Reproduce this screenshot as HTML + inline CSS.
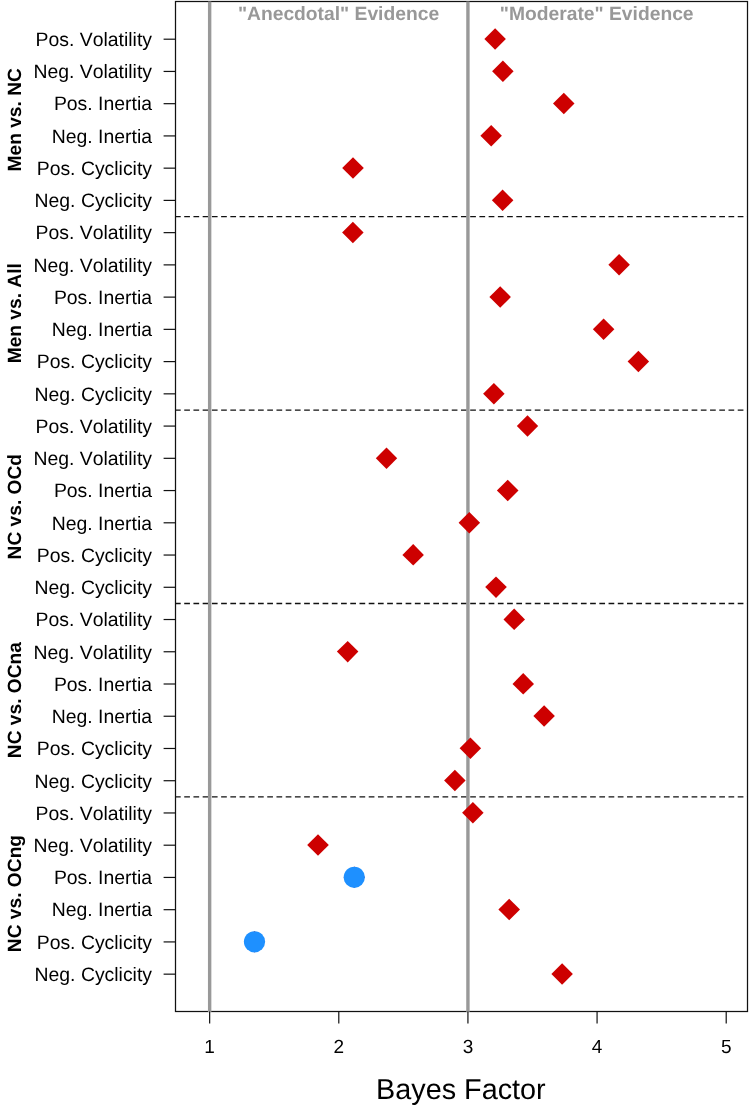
<!DOCTYPE html><html><head><meta charset="utf-8"><title>Bayes Factor</title><style>html,body{margin:0;padding:0;background:#fff}svg{display:block}text{font-kerning:none;text-rendering:geometricPrecision;font-family:"Liberation Sans",sans-serif;fill:#000}</style></head><body>
<svg width="749" height="1109" viewBox="0 0 749 1109">
<rect width="749" height="1109" fill="#fff"/>
<line x1="175.5" y1="216.62" x2="747.5" y2="216.62" stroke="#111" stroke-width="1.3" stroke-dasharray="5.7 3.525" stroke-dashoffset="0.5"/>
<line x1="175.5" y1="410.06" x2="747.5" y2="410.06" stroke="#111" stroke-width="1.3" stroke-dasharray="5.7 3.525" stroke-dashoffset="0.5"/>
<line x1="175.5" y1="603.50" x2="747.5" y2="603.50" stroke="#111" stroke-width="1.3" stroke-dasharray="5.7 3.525" stroke-dashoffset="0.5"/>
<line x1="175.5" y1="796.94" x2="747.5" y2="796.94" stroke="#111" stroke-width="1.3" stroke-dasharray="5.7 3.525" stroke-dashoffset="0.5"/>
<rect x="175.5" y="1.5" width="572.0" height="1010.0" fill="none" stroke="#111" stroke-width="1.25"/>
<line x1="209.65" y1="1.5" x2="209.65" y2="1011.9" stroke="#999999" stroke-width="3.4"/>
<line x1="467.93" y1="1.5" x2="467.93" y2="1011.9" stroke="#999999" stroke-width="3.4"/>
<text x="338.5" y="20.4" font-size="19.25" font-weight="bold" text-anchor="middle" style="fill:#989898">"Anecdotal" Evidence</text>
<text x="596.7" y="20.4" font-size="19.25" font-weight="bold" text-anchor="middle" style="fill:#989898">"Moderate" Evidence</text>
<path d="M495.1 28.3L505.9 39.1L495.1 49.8L484.4 39.1Z" fill="#cd0000"/>
<path d="M502.9 60.5L513.6 71.3L502.9 82.0L492.1 71.3Z" fill="#cd0000"/>
<path d="M563.8 92.8L574.5 103.5L563.8 114.3L553.0 103.5Z" fill="#cd0000"/>
<path d="M491.2 125.0L501.9 135.8L491.2 146.5L480.4 135.8Z" fill="#cd0000"/>
<path d="M353.0 157.3L363.8 168.0L353.0 178.8L342.2 168.0Z" fill="#cd0000"/>
<path d="M502.6 189.5L513.4 200.3L502.6 211.0L491.9 200.3Z" fill="#cd0000"/>
<path d="M352.9 221.7L363.6 232.5L352.9 243.2L342.1 232.5Z" fill="#cd0000"/>
<path d="M619.1 254.0L629.9 264.7L619.1 275.5L608.4 264.7Z" fill="#cd0000"/>
<path d="M500.2 286.2L510.9 297.0L500.2 307.7L489.4 297.0Z" fill="#cd0000"/>
<path d="M603.6 318.5L614.4 329.2L603.6 340.0L592.9 329.2Z" fill="#cd0000"/>
<path d="M638.4 350.7L649.1 361.5L638.4 372.2L627.6 361.5Z" fill="#cd0000"/>
<path d="M493.9 382.9L504.6 393.7L493.9 404.4L483.1 393.7Z" fill="#cd0000"/>
<path d="M527.5 415.2L538.2 425.9L527.5 436.7L516.8 425.9Z" fill="#cd0000"/>
<path d="M386.5 447.4L397.2 458.2L386.5 468.9L375.8 458.2Z" fill="#cd0000"/>
<path d="M507.7 479.7L518.5 490.4L507.7 501.2L496.9 490.4Z" fill="#cd0000"/>
<path d="M469.3 511.9L480.1 522.7L469.3 533.4L458.6 522.7Z" fill="#cd0000"/>
<path d="M413.2 544.1L423.9 554.9L413.2 565.6L402.4 554.9Z" fill="#cd0000"/>
<path d="M496.0 576.4L506.8 587.1L496.0 597.9L485.2 587.1Z" fill="#cd0000"/>
<path d="M514.2 608.6L525.0 619.4L514.2 630.1L503.5 619.4Z" fill="#cd0000"/>
<path d="M347.7 640.9L358.4 651.6L347.7 662.4L336.9 651.6Z" fill="#cd0000"/>
<path d="M523.2 673.1L534.0 683.9L523.2 694.6L512.5 683.9Z" fill="#cd0000"/>
<path d="M544.1 705.3L554.9 716.1L544.1 726.8L533.4 716.1Z" fill="#cd0000"/>
<path d="M470.4 737.6L481.1 748.3L470.4 759.1L459.6 748.3Z" fill="#cd0000"/>
<path d="M454.9 769.8L465.6 780.6L454.9 791.3L444.1 780.6Z" fill="#cd0000"/>
<path d="M472.9 802.1L483.6 812.8L472.9 823.6L462.1 812.8Z" fill="#cd0000"/>
<path d="M318.0 834.3L328.8 845.1L318.0 855.8L307.2 845.1Z" fill="#cd0000"/>
<path d="M354.3 866.5L365.1 877.3L354.3 888.0L343.6 877.3Z" fill="#cd0000"/>
<circle cx="354.3" cy="877.3" r="10.6" fill="#1e90ff"/>
<path d="M509.2 898.8L520.0 909.5L509.2 920.3L498.4 909.5Z" fill="#cd0000"/>
<path d="M254.5 931.0L265.2 941.8L254.5 952.5L243.8 941.8Z" fill="#cd0000"/>
<circle cx="254.5" cy="941.8" r="10.6" fill="#1e90ff"/>
<path d="M562.1 963.3L572.9 974.0L562.1 984.8L551.4 974.0Z" fill="#cd0000"/>
<line x1="163.6" y1="39.20" x2="175.5" y2="39.20" stroke="#111" stroke-width="1.2"/>
<text x="152" y="46.00" font-size="19.4" text-anchor="end">Pos. Volatility</text>
<line x1="163.6" y1="71.44" x2="175.5" y2="71.44" stroke="#111" stroke-width="1.2"/>
<text x="152" y="78.24" font-size="19.4" text-anchor="end">Neg. Volatility</text>
<line x1="163.6" y1="103.68" x2="175.5" y2="103.68" stroke="#111" stroke-width="1.2"/>
<text x="152" y="110.48" font-size="19.4" text-anchor="end">Pos. Inertia</text>
<line x1="163.6" y1="135.92" x2="175.5" y2="135.92" stroke="#111" stroke-width="1.2"/>
<text x="152" y="142.72" font-size="19.4" text-anchor="end">Neg. Inertia</text>
<line x1="163.6" y1="168.16" x2="175.5" y2="168.16" stroke="#111" stroke-width="1.2"/>
<text x="152" y="174.96" font-size="19.4" text-anchor="end">Pos. Cyclicity</text>
<line x1="163.6" y1="200.40" x2="175.5" y2="200.40" stroke="#111" stroke-width="1.2"/>
<text x="152" y="207.20" font-size="19.4" text-anchor="end">Neg. Cyclicity</text>
<line x1="163.6" y1="232.64" x2="175.5" y2="232.64" stroke="#111" stroke-width="1.2"/>
<text x="152" y="239.44" font-size="19.4" text-anchor="end">Pos. Volatility</text>
<line x1="163.6" y1="264.88" x2="175.5" y2="264.88" stroke="#111" stroke-width="1.2"/>
<text x="152" y="271.68" font-size="19.4" text-anchor="end">Neg. Volatility</text>
<line x1="163.6" y1="297.12" x2="175.5" y2="297.12" stroke="#111" stroke-width="1.2"/>
<text x="152" y="303.92" font-size="19.4" text-anchor="end">Pos. Inertia</text>
<line x1="163.6" y1="329.36" x2="175.5" y2="329.36" stroke="#111" stroke-width="1.2"/>
<text x="152" y="336.16" font-size="19.4" text-anchor="end">Neg. Inertia</text>
<line x1="163.6" y1="361.60" x2="175.5" y2="361.60" stroke="#111" stroke-width="1.2"/>
<text x="152" y="368.40" font-size="19.4" text-anchor="end">Pos. Cyclicity</text>
<line x1="163.6" y1="393.84" x2="175.5" y2="393.84" stroke="#111" stroke-width="1.2"/>
<text x="152" y="400.64" font-size="19.4" text-anchor="end">Neg. Cyclicity</text>
<line x1="163.6" y1="426.08" x2="175.5" y2="426.08" stroke="#111" stroke-width="1.2"/>
<text x="152" y="432.88" font-size="19.4" text-anchor="end">Pos. Volatility</text>
<line x1="163.6" y1="458.32" x2="175.5" y2="458.32" stroke="#111" stroke-width="1.2"/>
<text x="152" y="465.12" font-size="19.4" text-anchor="end">Neg. Volatility</text>
<line x1="163.6" y1="490.56" x2="175.5" y2="490.56" stroke="#111" stroke-width="1.2"/>
<text x="152" y="497.36" font-size="19.4" text-anchor="end">Pos. Inertia</text>
<line x1="163.6" y1="522.80" x2="175.5" y2="522.80" stroke="#111" stroke-width="1.2"/>
<text x="152" y="529.60" font-size="19.4" text-anchor="end">Neg. Inertia</text>
<line x1="163.6" y1="555.04" x2="175.5" y2="555.04" stroke="#111" stroke-width="1.2"/>
<text x="152" y="561.84" font-size="19.4" text-anchor="end">Pos. Cyclicity</text>
<line x1="163.6" y1="587.28" x2="175.5" y2="587.28" stroke="#111" stroke-width="1.2"/>
<text x="152" y="594.08" font-size="19.4" text-anchor="end">Neg. Cyclicity</text>
<line x1="163.6" y1="619.52" x2="175.5" y2="619.52" stroke="#111" stroke-width="1.2"/>
<text x="152" y="626.32" font-size="19.4" text-anchor="end">Pos. Volatility</text>
<line x1="163.6" y1="651.76" x2="175.5" y2="651.76" stroke="#111" stroke-width="1.2"/>
<text x="152" y="658.56" font-size="19.4" text-anchor="end">Neg. Volatility</text>
<line x1="163.6" y1="684.00" x2="175.5" y2="684.00" stroke="#111" stroke-width="1.2"/>
<text x="152" y="690.80" font-size="19.4" text-anchor="end">Pos. Inertia</text>
<line x1="163.6" y1="716.24" x2="175.5" y2="716.24" stroke="#111" stroke-width="1.2"/>
<text x="152" y="723.04" font-size="19.4" text-anchor="end">Neg. Inertia</text>
<line x1="163.6" y1="748.48" x2="175.5" y2="748.48" stroke="#111" stroke-width="1.2"/>
<text x="152" y="755.28" font-size="19.4" text-anchor="end">Pos. Cyclicity</text>
<line x1="163.6" y1="780.72" x2="175.5" y2="780.72" stroke="#111" stroke-width="1.2"/>
<text x="152" y="787.52" font-size="19.4" text-anchor="end">Neg. Cyclicity</text>
<line x1="163.6" y1="812.96" x2="175.5" y2="812.96" stroke="#111" stroke-width="1.2"/>
<text x="152" y="819.76" font-size="19.4" text-anchor="end">Pos. Volatility</text>
<line x1="163.6" y1="845.20" x2="175.5" y2="845.20" stroke="#111" stroke-width="1.2"/>
<text x="152" y="852.00" font-size="19.4" text-anchor="end">Neg. Volatility</text>
<line x1="163.6" y1="877.44" x2="175.5" y2="877.44" stroke="#111" stroke-width="1.2"/>
<text x="152" y="884.24" font-size="19.4" text-anchor="end">Pos. Inertia</text>
<line x1="163.6" y1="909.68" x2="175.5" y2="909.68" stroke="#111" stroke-width="1.2"/>
<text x="152" y="916.48" font-size="19.4" text-anchor="end">Neg. Inertia</text>
<line x1="163.6" y1="941.92" x2="175.5" y2="941.92" stroke="#111" stroke-width="1.2"/>
<text x="152" y="948.72" font-size="19.4" text-anchor="end">Pos. Cyclicity</text>
<line x1="163.6" y1="974.16" x2="175.5" y2="974.16" stroke="#111" stroke-width="1.2"/>
<text x="152" y="980.96" font-size="19.4" text-anchor="end">Neg. Cyclicity</text>
<line x1="209.65" y1="1011.5" x2="209.65" y2="1023.5" stroke="#111" stroke-width="1.2"/>
<text x="209.65" y="1053" font-size="19" text-anchor="middle">1</text>
<line x1="338.79" y1="1011.5" x2="338.79" y2="1023.5" stroke="#111" stroke-width="1.2"/>
<text x="338.79" y="1053" font-size="19" text-anchor="middle">2</text>
<line x1="467.93" y1="1011.5" x2="467.93" y2="1023.5" stroke="#111" stroke-width="1.2"/>
<text x="467.93" y="1053" font-size="19" text-anchor="middle">3</text>
<line x1="597.07" y1="1011.5" x2="597.07" y2="1023.5" stroke="#111" stroke-width="1.2"/>
<text x="597.07" y="1053" font-size="19" text-anchor="middle">4</text>
<line x1="726.21" y1="1011.5" x2="726.21" y2="1023.5" stroke="#111" stroke-width="1.2"/>
<text x="726.21" y="1053" font-size="19" text-anchor="middle">5</text>
<text transform="translate(21 119.80) rotate(-90)" font-size="19.2" font-weight="bold" text-anchor="middle">Men vs. NC</text>
<text transform="translate(21 313.24) rotate(-90)" font-size="19.2" font-weight="bold" text-anchor="middle">Men vs. All</text>
<text transform="translate(21 506.68) rotate(-90)" font-size="19.2" font-weight="bold" text-anchor="middle">NC vs. OCd</text>
<text transform="translate(21 700.12) rotate(-90)" font-size="19.2" font-weight="bold" text-anchor="middle">NC vs. OCna</text>
<text transform="translate(21 893.56) rotate(-90)" font-size="19.2" font-weight="bold" text-anchor="middle">NC vs. OCng</text>
<text x="460.9" y="1099.2" font-size="28.8" text-anchor="middle">Bayes Factor</text>
</svg></body></html>
